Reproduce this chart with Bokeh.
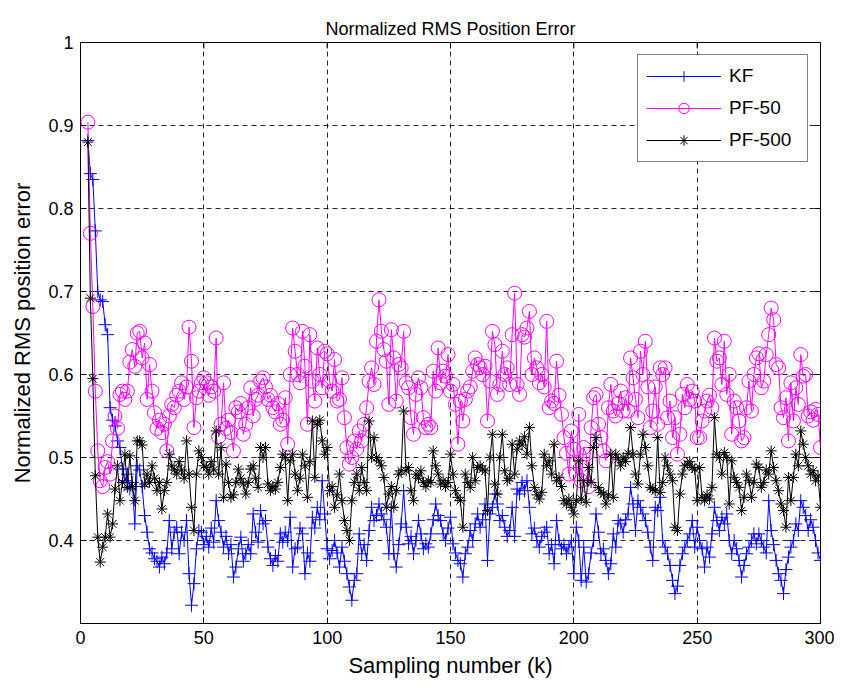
import math
from bokeh.plotting import figure
from bokeh.models import Range1d, FixedTicker, CustomJSTickFormatter, Legend, LegendItem
from bokeh.embed import file_html
from bokeh.resources import INLINE

k = list(range(3, 301))

kf = [
    # k3..23
    0.882, 0.842, 0.835, 0.773, 0.700, 0.690, 0.688, 0.660, 0.648, 0.560, 0.545, 0.538, 0.520, 0.512, 0.486, 0.472, 0.480, 0.462, 0.470, 0.420, 0.490,
    # k24..50
    0.485, 0.465, 0.430, 0.410, 0.390, 0.385, 0.378, 0.375, 0.368, 0.380, 0.372, 0.385, 0.424, 0.390, 0.410, 0.416, 0.384, 0.410, 0.400, 0.424, 0.360, 0.322, 0.348, 0.390, 0.412, 0.410, 0.395,
    # k51..75
    0.405, 0.392, 0.415, 0.398, 0.448, 0.424, 0.410, 0.392, 0.405, 0.384, 0.395, 0.356, 0.368, 0.390, 0.404, 0.375, 0.384, 0.395, 0.384, 0.432, 0.410, 0.398, 0.436, 0.420, 0.424,
    # k76..100
    0.392, 0.378, 0.370, 0.382, 0.375, 0.408, 0.398, 0.410, 0.400, 0.428, 0.368, 0.390, 0.392, 0.415, 0.408, 0.360, 0.385, 0.375, 0.428, 0.415, 0.440, 0.425, 0.472, 0.432, 0.390,
    # k101..125
    0.378, 0.388, 0.400, 0.385, 0.368, 0.392, 0.375, 0.360, 0.344, 0.328, 0.352, 0.360, 0.408, 0.384, 0.395, 0.376, 0.412, 0.440, 0.424, 0.430, 0.444, 0.432, 0.425, 0.416, 0.384,
    # k126..150
    0.440, 0.384, 0.368, 0.395, 0.420, 0.460, 0.416, 0.396, 0.405, 0.384, 0.400, 0.424, 0.408, 0.390, 0.396, 0.392, 0.408, 0.425, 0.444, 0.430, 0.424, 0.408, 0.400, 0.415, 0.428,
    # k151..175
    0.396, 0.385, 0.376, 0.372, 0.356, 0.384, 0.392, 0.412, 0.400, 0.420, 0.432, 0.416, 0.425, 0.444, 0.376, 0.432, 0.440, 0.456, 0.444, 0.424, 0.430, 0.416, 0.405, 0.412, 0.440,
    # k176..200
    0.405, 0.462, 0.456, 0.470, 0.460, 0.472, 0.440, 0.408, 0.415, 0.400, 0.392, 0.405, 0.410, 0.416, 0.384, 0.395, 0.372, 0.424, 0.400, 0.390, 0.395, 0.384, 0.392, 0.400, 0.360,
    # k201..225
    0.416, 0.400, 0.352, 0.392, 0.350, 0.360, 0.385, 0.400, 0.432, 0.410, 0.384, 0.390, 0.376, 0.360, 0.372, 0.408, 0.392, 0.424, 0.420, 0.410, 0.425, 0.432, 0.464, 0.444, 0.412,
    # k226..250
    0.448, 0.440, 0.432, 0.424, 0.410, 0.392, 0.376, 0.440, 0.436, 0.452, 0.400, 0.392, 0.384, 0.370, 0.352, 0.336, 0.345, 0.370, 0.384, 0.392, 0.400, 0.408, 0.424, 0.392, 0.416,
    # k251..275
    0.400, 0.390, 0.368, 0.392, 0.380, 0.408, 0.440, 0.424, 0.412, 0.428, 0.420, 0.432, 0.400, 0.384, 0.400, 0.390, 0.376, 0.356, 0.370, 0.384, 0.392, 0.400, 0.408, 0.396, 0.408,
    # k276..300
    0.400, 0.392, 0.385, 0.448, 0.412, 0.395, 0.376, 0.360, 0.352, 0.336, 0.365, 0.380, 0.392, 0.400, 0.420, 0.412, 0.448, 0.440, 0.430, 0.412, 0.425, 0.416, 0.400, 0.385, 0.376,
]

pf50 = [
    0.904, 0.770, 0.682, 0.580, 0.508, 0.472, 0.465, 0.488, 0.495, 0.480, 0.520, 0.550, 0.535, 0.576, 0.580, 0.570, 0.580, 0.615, 0.630, 0.610, 0.650,
    0.652, 0.620, 0.638, 0.570, 0.612, 0.580, 0.554, 0.535, 0.545, 0.530, 0.540, 0.508, 0.550, 0.564, 0.560, 0.575, 0.580, 0.590, 0.570, 0.585, 0.657, 0.616, 0.536, 0.572, 0.580, 0.590, 0.596,
    0.590, 0.575, 0.585, 0.580, 0.644, 0.525, 0.540, 0.590, 0.535, 0.545, 0.530, 0.508, 0.560, 0.555, 0.565, 0.528, 0.540, 0.560, 0.584, 0.550, 0.570, 0.575, 0.592, 0.596, 0.585,
    0.570, 0.575, 0.560, 0.555, 0.565, 0.540, 0.545, 0.572, 0.516, 0.600, 0.656, 0.628, 0.600, 0.590, 0.652, 0.610, 0.540, 0.648, 0.592, 0.568, 0.632, 0.600, 0.584, 0.628, 0.625,
    0.592, 0.580, 0.618, 0.568, 0.570, 0.596, 0.548, 0.512, 0.492, 0.500, 0.520, 0.510, 0.532, 0.520, 0.540, 0.560, 0.592, 0.608, 0.588, 0.640, 0.690, 0.652, 0.630, 0.616, 0.564,
    0.654, 0.620, 0.568, 0.612, 0.608, 0.652, 0.590, 0.584, 0.548, 0.528, 0.576, 0.596, 0.584, 0.548, 0.536, 0.540, 0.536, 0.604, 0.580, 0.632, 0.590, 0.604, 0.598, 0.624, 0.580,
    0.588, 0.564, 0.516, 0.568, 0.544, 0.570, 0.580, 0.585, 0.604, 0.620, 0.612, 0.608, 0.600, 0.610, 0.544, 0.592, 0.652, 0.636, 0.576, 0.588, 0.628, 0.600, 0.608, 0.588, 0.648,
    0.698, 0.588, 0.576, 0.648, 0.645, 0.656, 0.676, 0.600, 0.620, 0.608, 0.590, 0.600, 0.585, 0.664, 0.560, 0.568, 0.565, 0.616, 0.575, 0.552, 0.524, 0.505, 0.480, 0.532, 0.510,
    0.480, 0.552, 0.472, 0.512, 0.504, 0.465, 0.536, 0.572, 0.576, 0.540, 0.524, 0.508, 0.496, 0.560, 0.588, 0.556, 0.550, 0.565, 0.580, 0.556, 0.572, 0.556, 0.620, 0.596, 0.570,
    0.548, 0.628, 0.600, 0.640, 0.585, 0.536, 0.556, 0.585, 0.540, 0.608, 0.600, 0.608, 0.548, 0.568, 0.524, 0.548, 0.504, 0.528, 0.576, 0.560, 0.588, 0.570, 0.580, 0.568, 0.524,
    0.524, 0.544, 0.556, 0.568, 0.575, 0.560, 0.644, 0.616, 0.620, 0.588, 0.640, 0.576, 0.600, 0.528, 0.568, 0.560, 0.544, 0.520, 0.524, 0.560, 0.592, 0.556, 0.600, 0.620, 0.625,
    0.584, 0.592, 0.624, 0.648, 0.680, 0.666, 0.612, 0.608, 0.560, 0.548, 0.572, 0.520, 0.590, 0.544, 0.584, 0.564, 0.624, 0.598, 0.600, 0.550, 0.555, 0.545, 0.558, 0.552, 0.512,
]

pf500 = [
    0.880, 0.692, 0.595, 0.478, 0.404, 0.374, 0.392, 0.404, 0.432, 0.404, 0.420, 0.462, 0.490, 0.448, 0.470, 0.504, 0.464, 0.502, 0.465, 0.448, 0.520,
    0.520, 0.515, 0.468, 0.480, 0.470, 0.490, 0.475, 0.460, 0.470, 0.438, 0.460, 0.470, 0.504, 0.490, 0.485, 0.480, 0.495, 0.485, 0.475, 0.520, 0.480, 0.440, 0.412, 0.480, 0.508, 0.500, 0.490,
    0.488, 0.480, 0.495, 0.485, 0.532, 0.480, 0.512, 0.452, 0.492, 0.470, 0.452, 0.455, 0.470, 0.486, 0.475, 0.468, 0.456, 0.470, 0.486, 0.490, 0.475, 0.464, 0.512, 0.500, 0.512,
    0.468, 0.460, 0.465, 0.462, 0.470, 0.488, 0.504, 0.500, 0.448, 0.496, 0.504, 0.480, 0.460, 0.475, 0.504, 0.490, 0.452, 0.495, 0.544, 0.476, 0.540, 0.545, 0.520, 0.504, 0.512,
    0.460, 0.465, 0.440, 0.455, 0.480, 0.448, 0.424, 0.412, 0.400, 0.448, 0.470, 0.480, 0.460, 0.488, 0.470, 0.460, 0.544, 0.500, 0.524, 0.500, 0.496, 0.490, 0.476, 0.440, 0.456,
    0.465, 0.440, 0.460, 0.480, 0.484, 0.556, 0.484, 0.488, 0.460, 0.448, 0.480, 0.475, 0.484, 0.470, 0.465, 0.472, 0.470, 0.508, 0.490, 0.480, 0.468, 0.472, 0.465, 0.470, 0.504,
    0.480, 0.460, 0.452, 0.448, 0.416, 0.480, 0.470, 0.464, 0.500, 0.472, 0.488, 0.490, 0.486, 0.484, 0.436, 0.500, 0.528, 0.468, 0.456, 0.500, 0.528, 0.484, 0.472, 0.475, 0.516,
    0.480, 0.510, 0.520, 0.515, 0.525, 0.504, 0.536, 0.490, 0.464, 0.455, 0.450, 0.458, 0.504, 0.490, 0.496, 0.480, 0.516, 0.472, 0.476, 0.465, 0.448, 0.444, 0.450, 0.440, 0.432,
    0.448, 0.496, 0.450, 0.472, 0.446, 0.488, 0.470, 0.512, 0.524, 0.464, 0.458, 0.456, 0.444, 0.455, 0.504, 0.452, 0.504, 0.498, 0.490, 0.500, 0.495, 0.505, 0.536, 0.504, 0.480,
    0.468, 0.504, 0.528, 0.512, 0.490, 0.464, 0.462, 0.460, 0.524, 0.458, 0.470, 0.500, 0.490, 0.480, 0.472, 0.416, 0.412, 0.456, 0.480, 0.490, 0.492, 0.495, 0.488, 0.486, 0.448,
    0.488, 0.452, 0.448, 0.455, 0.450, 0.464, 0.548, 0.504, 0.500, 0.480, 0.506, 0.500, 0.444, 0.496, 0.476, 0.470, 0.464, 0.436, 0.452, 0.480, 0.472, 0.452, 0.470, 0.492, 0.488,
    0.464, 0.470, 0.485, 0.480, 0.508, 0.488, 0.472, 0.460, 0.444, 0.436, 0.416, 0.476, 0.448, 0.476, 0.504, 0.490, 0.532, 0.516, 0.500, 0.490, 0.480, 0.484, 0.472, 0.478, 0.440,
]

x_ticks = [0, 50, 100, 150, 200, 250, 300]
y_ticks = [0.4, 0.5, 0.6, 0.7, 0.8, 0.9, 1.0]

FONT = "Liberation Sans"

p = figure(width=834, height=680, output_backend="svg", toolbar_location=None,
           x_range=Range1d(0, 300), y_range=Range1d(0.3, 1.0),
           min_border_left=80, min_border_right=14, min_border_top=42, min_border_bottom=57)

p.title.text = "Normalized RMS Position Error"
p.title.align = "center"
p.title.text_font = FONT
p.title.text_font_style = "normal"
p.title.text_font_size = "18px"
p.title.text_color = "black"
p.title.standoff = 8

p.outline_line_color = "black"
p.outline_line_width = 1
p.background_fill_color = "white"
p.border_fill_color = "white"

p.xaxis.ticker = FixedTicker(ticks=x_ticks)
p.yaxis.ticker = FixedTicker(ticks=y_ticks)
p.yaxis.formatter = CustomJSTickFormatter(code="return (Math.round(tick*10)/10).toString();")
p.xaxis.axis_label = "Sampling number (k)"
p.yaxis.axis_label = "Normalized RMS position error"

for ax in [p.xaxis[0], p.yaxis[0]]:
    ax.axis_label_text_font = FONT
    ax.axis_label_text_font_style = "normal"
    ax.axis_label_text_font_size = "22px"
    ax.axis_label_text_color = "black"
    ax.major_label_text_font = FONT
    ax.major_label_text_font_size = "18px"
    ax.major_label_text_color = "black"
    ax.major_tick_in = 6
    ax.major_tick_out = 0
    ax.minor_tick_line_color = None
    ax.axis_line_color = "black"
    ax.major_tick_line_color = "black"
    ax.major_label_standoff = 7
p.xaxis.axis_label_standoff = 6
p.yaxis.axis_label_standoff = 10

# inward tick marks on the top and right edges of the box
p.ray(x=x_ticks, y=[1.0] * len(x_ticks), length=6, length_units="screen",
      angle=-math.pi / 2, line_color="black", line_width=1)
p.ray(x=[300] * len(y_ticks), y=y_ticks, length=6, length_units="screen",
      angle=math.pi, line_color="black", line_width=1)

p.xgrid.ticker = FixedTicker(ticks=x_ticks)
p.ygrid.ticker = FixedTicker(ticks=y_ticks)
p.grid.grid_line_color = "black"
p.grid.grid_line_dash = "5 4"
p.grid.grid_line_alpha = 0.85
p.grid.grid_line_width = 1

l1 = p.line(k, kf, line_color="#0000FF", line_width=1)
s1 = p.scatter(k, kf, marker="cross", size=13, line_color="#0000FF", line_width=1)
l2 = p.line(k, pf50, line_color="#FF00FF", line_width=1)
s2 = p.scatter(k, pf50, marker="circle", size=14, line_color="#FF00FF", fill_color=None, line_width=1)
l3 = p.line(k, pf500, line_color="black", line_width=1)
s3 = p.scatter(k, pf500, marker="asterisk", size=11, line_color="black", line_width=1)

legend = Legend(items=[
    LegendItem(label="KF", renderers=[l1, s1]),
    LegendItem(label="PF-50", renderers=[l2, s2]),
    LegendItem(label="PF-500", renderers=[l3, s3]),
], location="top_right")
legend.label_text_font = FONT
legend.label_text_font_size = "19px"
legend.label_text_color = "black"
legend.border_line_color = "black"
legend.border_line_width = 1
legend.background_fill_color = "white"
legend.background_fill_alpha = 1.0
legend.glyph_width = 75
legend.glyph_height = 26
legend.label_height = 26
legend.label_width = 70
legend.label_standoff = 8
legend.spacing = 6
legend.padding = 8
legend.margin = 12
p.add_layout(legend)

open("out.html", "w").write(file_html(p, INLINE))
